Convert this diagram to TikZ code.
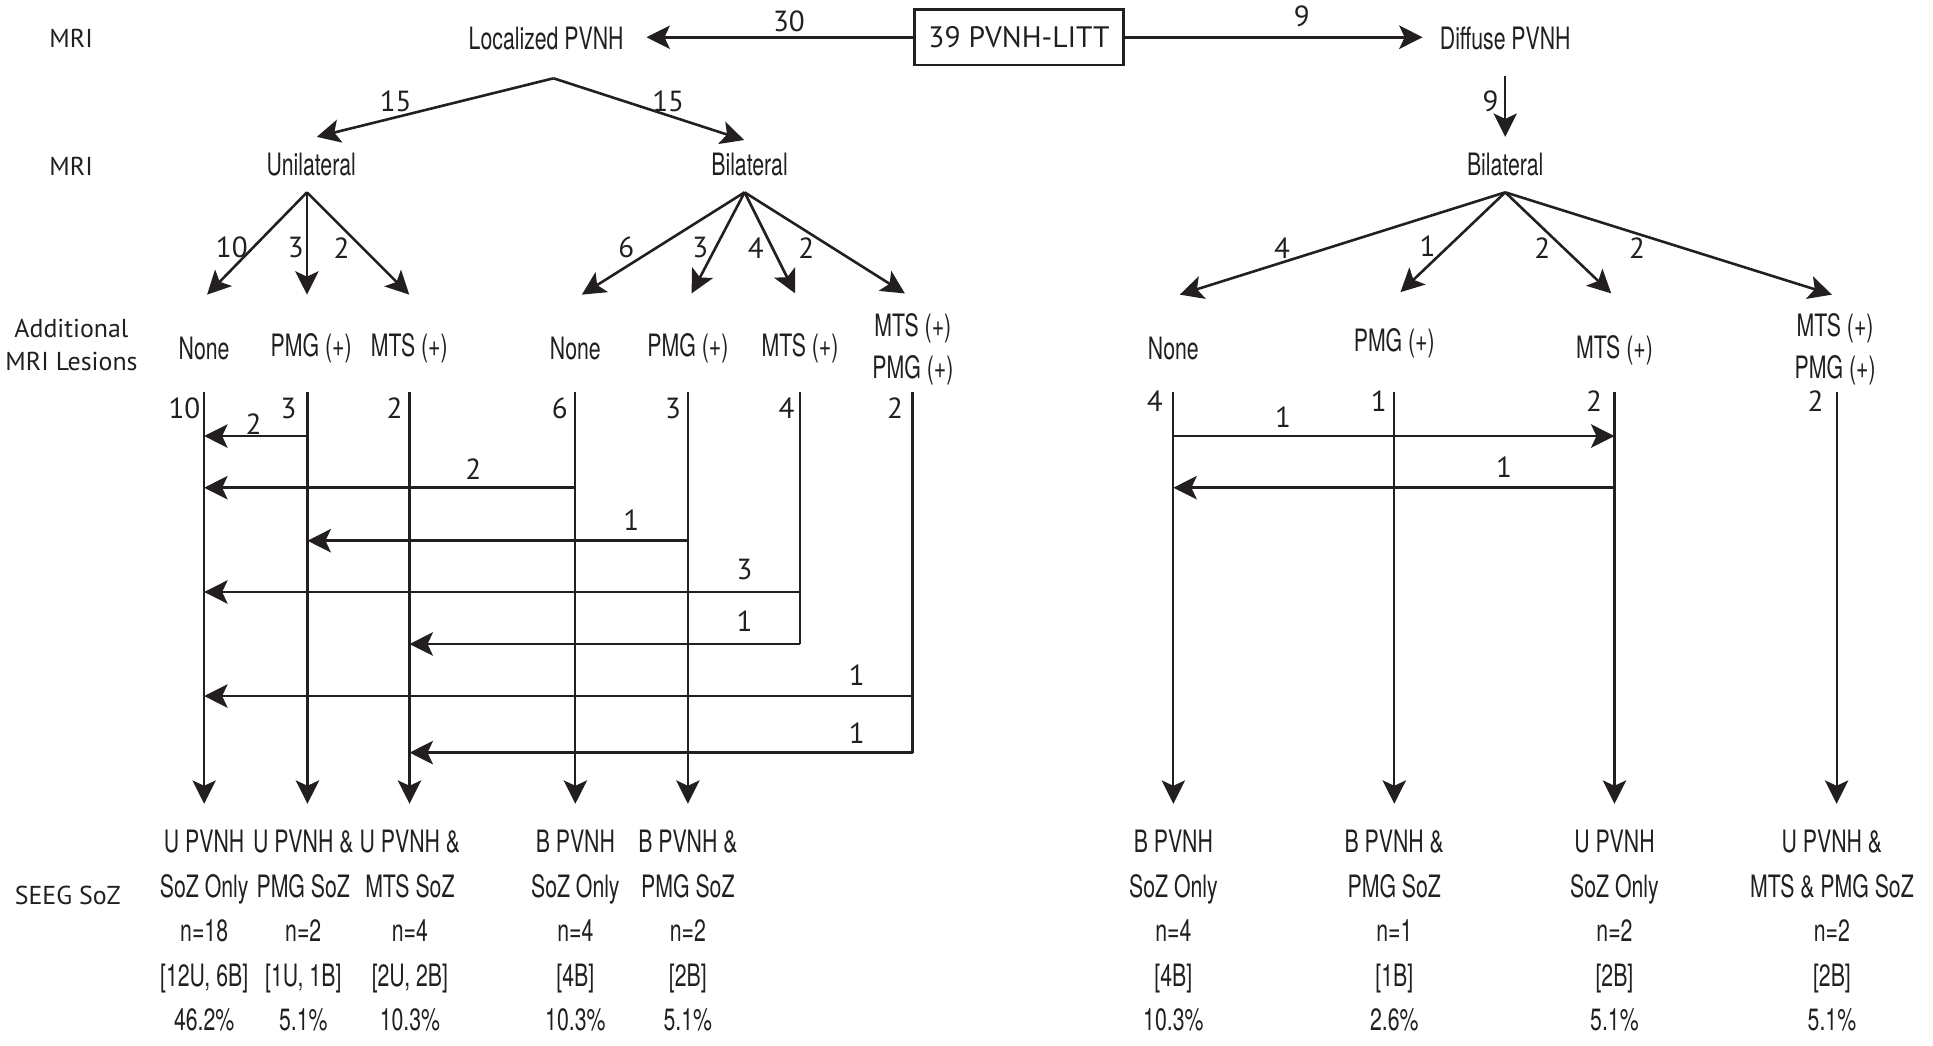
\documentclass[tikz,border=0pt]{standalone}
\usepackage{fontspec}
\setmainfont{TeX Gyre Heros}[FakeStretch=0.69]
\newfontfamily\labfont{PT Sans}
\usetikzlibrary{arrows.meta}
\definecolor{ink}{HTML}{231F20}
\begin{document}
\begin{tikzpicture}[x=0.5pt,y=-0.5pt, color=ink,
  cond/.style={font=\fontsize{12.5}{17}\selectfont, inner sep=0pt, align=center},
  lab/.style={font=\labfont\fontsize{10.5}{13.2}\selectfont, inner sep=0pt, align=center},
  num/.style={font=\labfont\fontsize{11.8}{13}\selectfont, inner sep=0pt},
  tipa/.style={-{Stealth[length=9.5pt,width=9.5pt,inset=2.2pt]}},
  diag/.style={tipa, line width=1.05pt},
  harr/.style={tipa, line width=1.05pt},
  vcol/.style={line width=0.85pt},
  varr/.style={vcol, tipa},
  res/.style={font=\fontsize{12.5}{18.1}\selectfont, inner sep=0pt, align=center}
]
\useasboundingbox (0,0) rectangle (1568,848);

% ---------- row labels ----------
\node[lab] (rmri1) at (57.7,31) {MRI};
\node[lab] (rmri2) at (57.7,135) {MRI};
\node[lab] (radd) at (58,280) {Additional\\MRI Lesions};
\node[lab] (rseeg) at (55,726) {SEEG SoZ};

% ---------- top row ----------
\node[draw, line width=1.1pt, minimum width=85pt, minimum height=22.5pt,
      font=\labfont\fontsize{12}{14}\selectfont, inner sep=0pt] (root) at (826.6,30.2) {39 PVNH-LITT};
\node[cond] (loc) at (443,31) {Localized PVNH};
\node[cond] (dif) at (1221,31) {Diffuse PVNH};
\coordinate (locIn) at (524.4,30.2);
\coordinate (difIn) at (1154,30.2);
\draw[harr] (root.west) -- (locIn);
\draw[harr] (root.east) -- (difIn);
\node[num] (n30) at (640,17.6) {30};
\node[num] (n9a) at (1056,13.5) {9};

% ---------- second row ----------
\node[cond] (uni) at (252.4,133.8) {Unilateral};
\node[cond] (bil) at (608,133.8) {Bilateral};
\node[cond] (dbil) at (1221,133.8) {Bilateral};
\coordinate (locApex) at (449,63.5);
\coordinate (uniIn) at (257,111);
\coordinate (bilIn) at (603.6,113.6);
\draw[diag] (locApex) -- (uniIn);
\draw[diag] (locApex) -- (bilIn);
\node[num] (n15a) at (321,82.5) {15};
\node[num] (n15b) at (542,82.5) {15};
\coordinate (difOut) at (1221,62);
\coordinate (dbilIn) at (1221,111);
\draw[vcol, tipa] (difOut) -- (dbilIn);
\node[num] (n9b) at (1209,82.5) {9};

% ---------- third row: additional lesions ----------
\node[cond] (uN) at (165.6,282.5) {None};
\node[cond] (uP) at (252.4,282.5) {PMG (+)};
\node[cond] (uM) at (332,282.5) {MTS (+)};
\node[cond] (bN) at (466.7,282.5) {None};
\node[cond] (bP) at (558,282.5) {PMG (+)};
\node[cond] (bM) at (649,282.5) {MTS (+)};
\node[cond] (bMP) at (740.5,283) {MTS (+)\\PMG (+)};
\node[cond] (dN) at (951.8,282.6) {None};
\node[cond] (dP) at (1131,278.5) {PMG (+)};
\node[cond] (dM) at (1309.6,284) {MTS (+)};
\node[cond] (dMP) at (1488.6,283.5) {MTS (+)\\PMG (+)};

% unilateral split
\coordinate (uniApex) at (249,156);
\coordinate (uNin) at (168,239);
\coordinate (uPin) at (249,239);
\coordinate (uMin) at (332,239);
\draw[diag] (uniApex) -- (uNin);
\draw[vcol, tipa] (uniApex) -- (uPin);
\draw[diag] (uniApex) -- (uMin);
\node[num] at (188,201) {10};
\node[num] at (240,201) {3};
\node[num] at (277,201) {2};

% bilateral split
\coordinate (bilApex) at (604,156);
\coordinate (bNin) at (472,239);
\coordinate (bPin) at (561,238);
\coordinate (bMin) at (645,238);
\coordinate (bMPin) at (734,238);
\draw[diag] (bilApex) -- (bNin);
\draw[diag] (bilApex) -- (bPin);
\draw[diag] (bilApex) -- (bMin);
\draw[diag] (bilApex) -- (bMPin);
\node[num] at (508,201) {6};
\node[num] at (568,201) {3};
\node[num] at (613,201) {4};
\node[num] at (654,201) {2};

% diffuse bilateral split
\coordinate (dbilApex) at (1221,156);
\coordinate (dNin) at (957,239);
\coordinate (dPin) at (1136,237);
\coordinate (dMin) at (1307,238);
\coordinate (dMPin) at (1486,239);
\draw[diag] (dbilApex) -- (dNin);
\draw[diag] (dbilApex) -- (dPin);
\draw[diag] (dbilApex) -- (dMin);
\draw[diag] (dbilApex) -- (dMPin);
\node[num] at (1040,201) {4};
\node[num] at (1158,200) {1};
\node[num] at (1251,201) {2};
\node[num] at (1328,201) {2};

% ---------- columns ----------
\foreach \nm/\xx in {L1/165.6, L2/249.4, L3/332.2, L4/466.7, L5/558, L6/649, L7/740.2,
                     R1/951.8, R2/1131, R3/1309.6, R4/1489.8}{
  \coordinate (\nm top) at (\xx,318);
  \coordinate (\nm bot) at (\xx,652);
}
\draw[varr] (L1top) -- (L1bot);
\draw[varr] (L2top) -- (L2bot);
\draw[varr] (L3top) -- (L3bot);
\draw[varr] (L4top) -- (L4bot);
\draw[varr] (L5top) -- (L5bot);
\draw[vcol] (L6top) -- (L6top |- 0,522.4);
\draw[vcol] (L7top) -- (L7top |- 0,610.5);
\draw[varr] (R1top) -- (R1bot);
\draw[varr] (R2top) -- (R2bot);
\draw[varr] (R3top) -- (R3bot);
\draw[varr] (R4top) -- (R4bot);

% counts at column tops
\node[num] at (149.6,331) {10};
\node[num] at (234,331) {3};
\node[num] at (320,331) {2};
\node[num] at (454,331) {6};
\node[num] at (546,331) {3};
\node[num] at (638,331) {4};
\node[num] at (726,331) {2};
\node[num] at (936.8,325) {4};
\node[num] at (1118.4,325) {1};
\node[num] at (1293,325) {2};
\node[num] at (1472.7,325) {2};

% horizontal transfers (left)
\draw[harr] (L2top |- 0,353.7) -- (L1top |- 0,353.7);
\node[num] at (205.7,344) {2};
\draw[harr] (L4top |- 0,395.6) -- (L1top |- 0,395.6);
\node[num] at (384,380.5) {2};
\draw[harr] (L5top |- 0,438.6) -- (L2top |- 0,438.6);
\node[num] at (512,422) {1};
\draw[harr] (L6top |- 0,480.2) -- (L1top |- 0,480.2);
\node[num] at (604,462) {3};
\draw[harr] (L6top |- 0,522.4) -- (L3top |- 0,522.4);
\node[num] at (604,504) {1};
\draw[harr] (L7top |- 0,564.6) -- (L1top |- 0,564.6);
\node[num] at (695,547.5) {1};
\draw[harr] (L7top |- 0,610.5) -- (L3top |- 0,610.5);
\node[num] at (695,594.6) {1};

% horizontal transfers (right)
\draw[harr] (R1top |- 0,353.7) -- (R3top |- 0,353.7);
\node[num] at (1040.7,338) {1};
\draw[harr] (R3top |- 0,395.6) -- (R1top |- 0,395.6);
\node[num] at (1220,379) {1};

% ---------- results ----------
\node[res] (s1) at (165.6,755) {U PVNH\\SoZ Only\\n=18\\{[12U, 6B]}\\46.2\%};
\node[res] (s2) at (246,755) {U PVNH \&\\PMG SoZ\\n=2\\{[1U, 1B]}\\5.1\%};
\node[res] (s3) at (332.5,755) {U PVNH \&\\MTS SoZ\\n=4\\{[2U, 2B]}\\10.3\%};
\node[res] (s4) at (466.7,755) {B PVNH\\SoZ Only\\n=4\\{[4B]}\\10.3\%};
\node[res] (s5) at (558,755) {B PVNH \&\\PMG SoZ\\n=2\\{[2B]}\\5.1\%};
\node[res] (s6) at (951.8,755) {B PVNH\\SoZ Only\\n=4\\{[4B]}\\10.3\%};
\node[res] (s7) at (1131,755) {B PVNH \&\\PMG SoZ\\n=1\\{[1B]}\\2.6\%};
\node[res] (s8) at (1309.6,755) {U PVNH\\SoZ Only\\n=2\\{[2B]}\\5.1\%};
\node[res] (s9) at (1486,755) {U PVNH \&\\MTS \& PMG SoZ\\n=2\\{[2B]}\\5.1\%};
\end{tikzpicture}
\end{document}
